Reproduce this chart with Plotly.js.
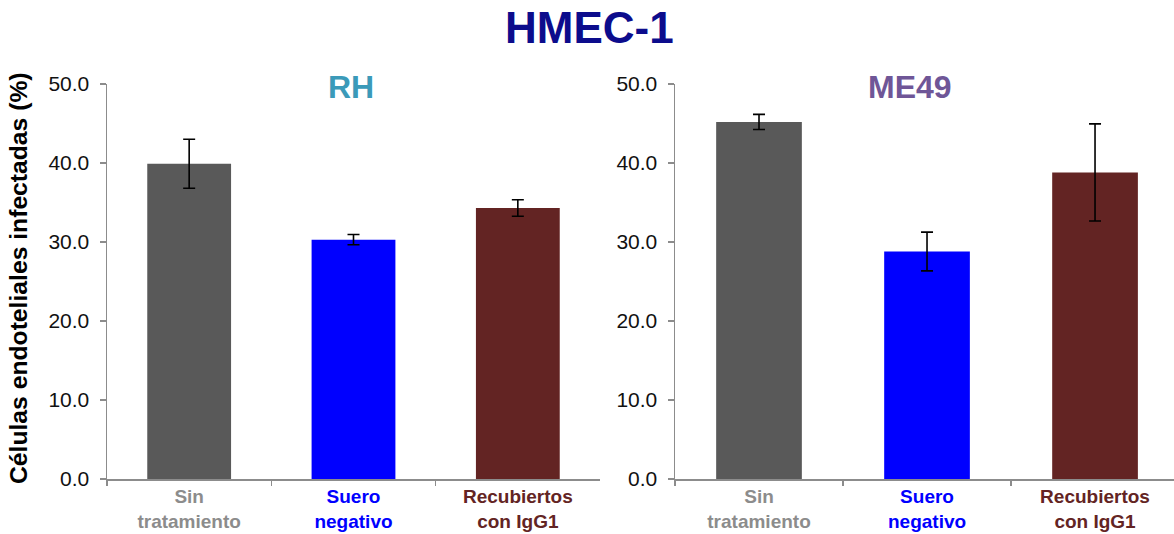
<!DOCTYPE html>
<html>
<head>
<meta charset="utf-8">
<script src="https://cdn.plot.ly/plotly-3.0.1.min.js"></script>
<style>
  html, body { margin: 0; padding: 0; background: #ffffff; }
  #chart { width: 1174px; height: 534px; }
</style>
</head>
<body>
<div id="chart"></div>
<script>
// Infected endothelial cells (%) per treatment, for two parasite strains
const categories = ['Sin tratamiento', 'Suero negativo', 'Recubiertos con IgG1'];
const tickLabels = ['Sin<br>tratamiento', 'Suero<br>negativo', 'Recubiertos<br>con IgG1'];
const barColors = ['#595959', '#0000ff', '#632423'];
const labelColors = ['#8c8c8c', '#0000ff', '#632423'];

const rhValues = [39.9, 30.3, 34.3];
const rhErrors = [3.1, 0.65, 1.05];

const me49Values = [45.2, 28.8, 38.8];
const me49Errors = [0.95, 2.45, 6.15];

const yTicks = [0, 10, 20, 30, 40, 50];

const W = 1174, H = 534;
const fx = p => p / W;
const fy = p => 1 - p / H;

const FONT = 'Liberation Sans, Arial, Helvetica, sans-serif';

function barTrace(values, errors, xa, ya) {
  return {
    type: 'bar',
    x: categories,
    y: values,
    xaxis: xa,
    yaxis: ya,
    width: 0.51,
    marker: { color: barColors, line: { width: 0 } },
    error_y: {
      type: 'data',
      array: errors,
      visible: true,
      color: '#000000',
      thickness: 1.6,
      width: 6
    },
    hoverinfo: 'x+y',
    showlegend: false
  };
}

const coloredTicks = tickLabels.map((t, i) =>
  '<span style="color:' + labelColors[i] + '">' + t + '</span>');

function xAxis(domain, range, anchor) {
  return {
    domain: domain,
    anchor: anchor,
    type: 'category',
    range: range,
    tickmode: 'array',
    tickvals: categories,
    ticktext: coloredTicks,
    tickson: 'boundaries',
    ticks: 'outside',
    ticklen: 5,
    tickwidth: 1.5,
    tickcolor: '#8c8c8c',
    showline: true,
    linecolor: '#8c8c8c',
    linewidth: 1.5,
    showgrid: false,
    zeroline: false,
    automargin: false,
    tickfont: { family: FONT, size: 19, weight: 'bold', color: '#8c8c8c' },
    fixedrange: true
  };
}

function yAxis(anchor) {
  return {
    domain: [fy(479), fy(84)],
    anchor: anchor,
    range: [0, 50],
    tickmode: 'array',
    tickvals: yTicks,
    tickformat: '.1f',
    ticks: 'outside',
    ticklen: 6,
    tickwidth: 1.5,
    tickcolor: '#8c8c8c',
    ticklabelstandoff: 6,
    showline: true,
    linecolor: '#8c8c8c',
    linewidth: 1.5,
    showgrid: false,
    zeroline: false,
    automargin: false,
    tickfont: { family: FONT, size: 21, color: '#111111' },
    fixedrange: true
  };
}

const data = [
  barTrace(rhValues, rhErrors, 'x', 'y'),
  barTrace(me49Values, me49Errors, 'x2', 'y2')
];

const layout = {
  width: W,
  height: H,
  margin: { l: 0, r: 0, t: 0, b: 0, pad: 0 },
  paper_bgcolor: '#ffffff',
  plot_bgcolor: '#ffffff',
  font: { family: FONT },
  bargap: 0.49,
  xaxis: xAxis([fx(107), fx(600)], [-0.5, 2.5], 'y'),
  yaxis: yAxis('x'),
  xaxis2: xAxis([fx(675), 1], [-0.5, 2.47], 'y2'),
  yaxis2: yAxis('x2'),
  annotations: [
    {
      text: 'HMEC-1', xref: 'paper', yref: 'paper',
      x: fx(589), y: fy(27), xanchor: 'center', yanchor: 'middle',
      showarrow: false,
      font: { family: FONT, size: 44, weight: 'bold', color: '#0c0c8c' }
    },
    {
      text: 'RH', xref: 'paper', yref: 'paper',
      x: fx(351), y: fy(87), xanchor: 'center', yanchor: 'middle',
      showarrow: false,
      font: { family: FONT, size: 32, weight: 'bold', color: '#3b9ab9' }
    },
    {
      text: 'ME49', xref: 'paper', yref: 'paper',
      x: fx(910), y: fy(87), xanchor: 'center', yanchor: 'middle',
      showarrow: false,
      font: { family: FONT, size: 32, weight: 'bold', color: '#6f5697' }
    },
    {
      text: 'Células endoteliales infectadas (%)', xref: 'paper', yref: 'paper',
      x: fx(18), y: fy(278), xanchor: 'center', yanchor: 'middle',
      textangle: -90, showarrow: false,
      font: { family: FONT, size: 24.7, weight: 'bold', color: '#000000' }
    }
  ]
};

Plotly.newPlot('chart', data, layout, { staticPlot: true, displayModeBar: false });
</script>
</body>
</html>
